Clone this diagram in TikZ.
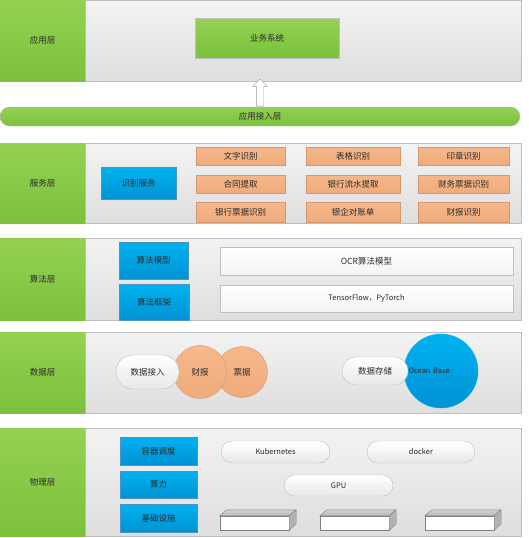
\documentclass[tikz,border=0pt]{standalone}
\usepackage{fontspec}
\setmainfont{Noto Sans CJK SC}
\usetikzlibrary{shapes.arrows,shapes.misc}
\definecolor{greentop}{HTML}{94D152}
\definecolor{greenbot}{HTML}{7CC13D}
\definecolor{greytop}{HTML}{F3F3F3}
\definecolor{greybot}{HTML}{DEDEDE}
\definecolor{edgegrey}{HTML}{BFBFBF}
\definecolor{orangetop}{HTML}{F5B88C}
\definecolor{orangebot}{HTML}{EFAB7A}
\definecolor{orangeline}{HTML}{CF9A70}
\definecolor{bluetop}{HTML}{00B2F0}
\definecolor{bluebot}{HTML}{0092D3}
\definecolor{blueline}{HTML}{4F93C6}
\definecolor{inktext}{HTML}{2B2B2B}
\begin{document}
\begin{tikzpicture}[x=1pt,y=-1pt,
    every node/.style={inner sep=0pt, text=inktext, font=\fontsize{8.5}{10}\selectfont},
    layer/.style={draw=edgegrey, line width=0.8pt, top color=greytop, bottom color=greybot, minimum width=436pt},
    tier/.style={top color=greentop, bottom color=greenbot, minimum width=85pt},
    app/.style={draw=edgegrey, top color=greentop, bottom color=greenbot},
    task/.style={draw=orangeline, top color=orangetop, bottom color=orangebot, minimum height=18pt},
    duty/.style={draw=blueline, top color=bluetop, bottom color=bluebot},
    slab/.style={draw=edgegrey, top color=white, bottom color=greytop, minimum width=293pt},
    pill/.style={rounded rectangle, draw=edgegrey, top color=white, bottom color=greybot!70},
    disc/.style={circle, draw=orangeline, top color=orangetop, bottom color=orangebot},
    latin/.style={font=\fontsize{7.5}{9}\selectfont},
    server/.style={draw=gray, fill=white, minimum width=69pt, minimum height=14pt},
    lid/.style={draw=gray, top color=gray!35, bottom color=gray!55},
    flank/.style={draw=gray, fill=gray!60}
  ]
  \useasboundingbox (0,0) rectangle (528,538);

  % layers
  \node[layer, minimum height=81pt] (appL) at (303,40.5) {};
  \node[tier, minimum height=81pt] (appT) at (42.5,40.5) {应用层};
  \node[layer, minimum height=80pt] (svcL) at (303,183) {};
  \node[tier, minimum height=80pt] (svcT) at (42.5,183) {服务层};
  \node[layer, minimum height=82pt] (algL) at (303,279) {};
  \node[tier, minimum height=82pt] (algT) at (42.5,279) {算法层};
  \node[layer, minimum height=81pt] (datL) at (303,372.5) {};
  \node[tier, minimum height=81pt] (datT) at (42.5,372.5) {数据层};
  \node[layer, minimum height=108pt] (phyL) at (303,482) {};
  \node[tier, minimum height=108pt] (phyT) at (42.5,482) {物理层};

  % application
  \node[app, minimum width=144pt, minimum height=40pt] (biz) at (267,38) {业务系统};
  \node[app, rounded rectangle, minimum width=520pt, minimum height=19pt] (gate) at (260,116.5) {应用接入层};
  \node[single arrow, draw=gray!80, fill=white, shape border rotate=90, inner sep=3.5pt,
        single arrow head extend=3.5pt, minimum height=27pt] (lift) at (260,94.5) {};

  % services
  \node[duty, minimum width=75pt, minimum height=32pt] (ocrsvc) at (138.5,183) {识别服务};
  \node[task, minimum width=89pt] (word) at (240.5,156) {文字识别};
  \node[task, minimum width=94pt] (table) at (353,156) {表格识别};
  \node[task, minimum width=91pt] (seal) at (463.5,156) {印章识别};
  \node[task, minimum width=89pt] (deal) at (240.5,184.5) {合同提取};
  \node[task, minimum width=94pt] (flow) at (353,184.5) {银行流水提取};
  \node[task, minimum width=91pt] (bill) at (463.5,184.5) {财务票据识别};
  \node[task, minimum width=89pt, minimum height=20pt] (note) at (240.5,212) {银行票据识别};
  \node[task, minimum width=94pt, minimum height=20pt] (recon) at (353,212) {银企对账单};
  \node[task, minimum width=91pt, minimum height=20pt] (report) at (463.5,212) {财报识别};

  % algorithms
  \node[duty, minimum width=69pt, minimum height=37pt] (model) at (153.5,260.5) {算法模型};
  \node[duty, minimum width=70pt, minimum height=36pt] (frame) at (154,302) {算法框架};
  \node[slab, minimum height=28pt] (ocrm) at (366.5,261) {OCR算法模型};
  \node[slab, minimum height=27pt, latin] (libs) at (366.5,298.5) {TensorFlow，PyTorch};

  % data
  \node[disc, minimum size=51pt] (vouch) at (242,372) {票据};
  \node[disc, minimum size=53pt] (fin) at (200,372) {财报};
  \node[pill, minimum width=63pt, minimum height=34pt] (ingest) at (147.5,372) {数据接入};
  \node[circle, draw=bluetop, top color=bluetop, bottom color=bluebot, minimum size=74pt,
        text width=65pt, align=left, latin] (ob) at (441,371) {Ocean Base};
  \node[pill, minimum width=66pt, minimum height=28pt] (store) at (375,371) {数据存储};

  % physical
  \node[duty, minimum width=77pt, minimum height=28pt] (sched) at (158.5,451) {容器调度};
  \node[duty, minimum width=77pt, minimum height=27pt] (power) at (158.5,484.5) {算力};
  \node[duty, minimum width=77pt, minimum height=28pt] (infra) at (158.5,518) {基础设施};
  \node[pill, latin, minimum width=109pt, minimum height=22pt] (k8s) at (275.5,452) {Kubernetes};
  \node[pill, latin, minimum width=108pt, minimum height=22pt] (dock) at (421,452) {docker};
  \node[pill, latin, minimum width=109pt, minimum height=21pt] (gpu) at (338.5,485.5) {GPU};
  \node[server] (srvA) at (254.5,523) {};
  \node[server] (srvB) at (354.5,523) {};
  \node[server] (srvC) at (459.5,523) {};
  \draw[lid] (srvA.north west) -- ++(7,-6) -- ++(69,0) -- (srvA.north east) -- cycle;
  \draw[flank] (srvA.north east) -- ++(7,-6) -- ++(0,14) -- (srvA.south east) -- cycle;
  \draw[lid] (srvB.north west) -- ++(7,-6) -- ++(69,0) -- (srvB.north east) -- cycle;
  \draw[flank] (srvB.north east) -- ++(7,-6) -- ++(0,14) -- (srvB.south east) -- cycle;
  \draw[lid] (srvC.north west) -- ++(7,-6) -- ++(69,0) -- (srvC.north east) -- cycle;
  \draw[flank] (srvC.north east) -- ++(7,-6) -- ++(0,14) -- (srvC.south east) -- cycle;
\end{tikzpicture}
\end{document}
